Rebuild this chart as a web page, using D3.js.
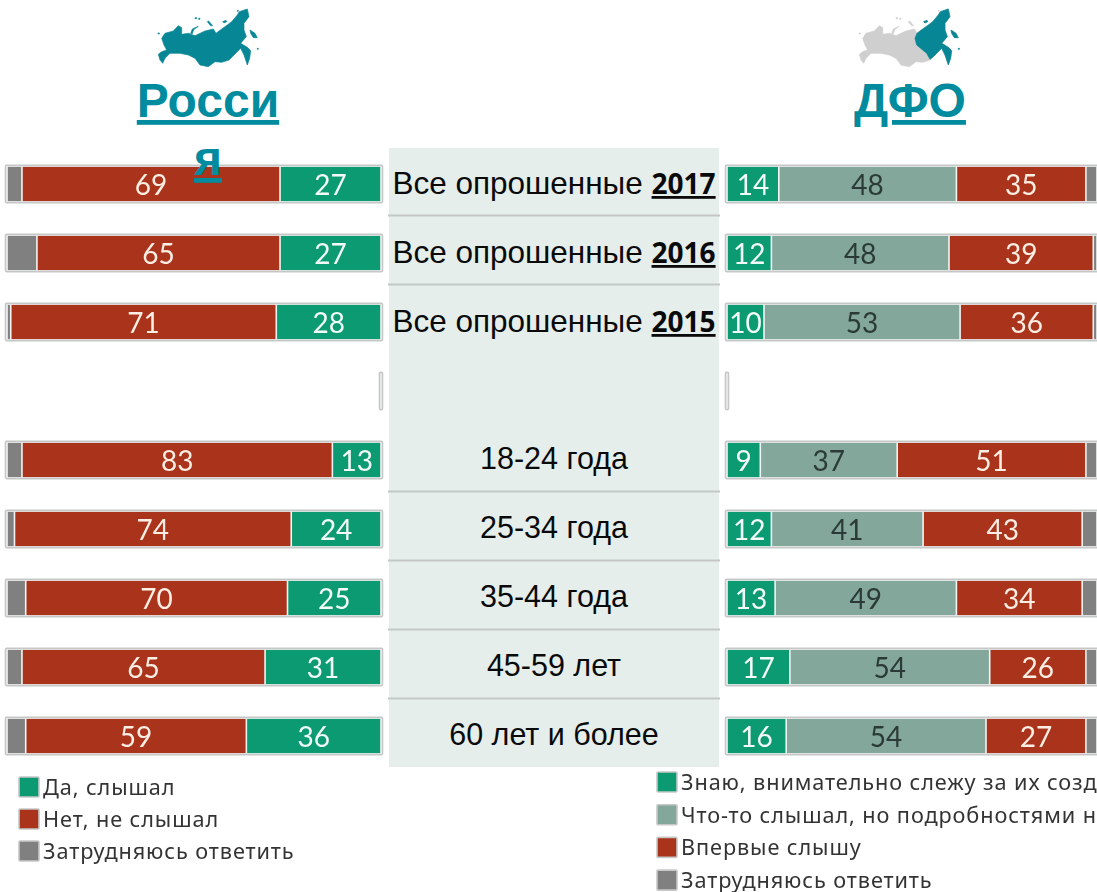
<!DOCTYPE html>
<html>
<head>
<meta charset="utf-8">
<script src="https://cdn.jsdelivr.net/npm/d3@7"></script>
<style>
    html, body { margin: 0; padding: 0; background: #fff; overflow: hidden; }
    svg { display: block; }
    .soft { filter: blur(0.45px); }
</style>
</head>
<body>
<div id="chart"></div>
<script>
// row labels, the empty string is the gap between years and age groups
var rowLabels = ["Все опрошенные", "Все опрошенные", "Все опрошенные", "", "18-24 года", "25-34 года", "35-44 года", "45-59 лет", "60 лет и более"];
var rowYears = ["2017", "2016", "2015", "", "", "", "", "", ""];

// Россия
var rusYes = [27, 27, 28, 0, 13, 24, 25, 31, 36];
var rusNo = [69, 65, 71, 0, 83, 74, 70, 65, 59];
var rusUnsure = [4, 8, 1, 0, 4, 2, 5, 4, 5];

// ДФО
var dfoKnow = [14, 12, 10, 0, 9, 12, 13, 17, 16];
var dfoHeard = [48, 48, 53, 0, 37, 41, 49, 54, 54];
var dfoFirst = [35, 39, 36, 0, 51, 43, 34, 26, 27];
var dfoUnsure = [3, 1, 1, 0, 3, 4, 4, 3, 3];

var rusLegend = ["Да, слышал", "Нет, не слышал", "Затрудняюсь ответить"];
var dfoLegend = ["Знаю, внимательно слежу за их созданием", "Что-то слышал, но подробностями не интересовался", "Впервые слышу", "Затрудняюсь ответить"];

function init() {
    var w = 1097;
    var h = 892;
    var green = "#0c9a72", sage = "#83a89b", red = "#a9331b", grey = "#808080", teal = "#008c9e";

    var svg = d3.select("#chart").append("svg")
        .attr("width", w)
        .attr("height", h);

    var yScale = d3.scaleBand()
        .domain(d3.range(rowLabels.length))
        .range([149.5, 770.5])
        .paddingInner(0.49)
        .paddingOuter(0.245);
    var rowY = function(i) { return yScale(i) + yScale.bandwidth() / 2; };

    // middle panel
    svg.append("rect")
        .attr("x", 389).attr("y", 148)
        .attr("width", 330).attr("height", 619)
        .attr("fill", "#e5eeeb");

    svg.selectAll("line.divider")
        .data([0, 1, 4, 5, 6, 7])
        .enter().append("line")
        .attr("class", "divider")
        .attr("x1", 388).attr("x2", 720)
        .attr("y1", function(d) { return rowY(d) + 31.5; })
        .attr("y2", function(d) { return rowY(d) + 31.5; })
        .attr("stroke", "#c3c7c5")
        .attr("stroke-width", 2);

    var labels = svg.selectAll("text.row")
        .data(rowLabels)
        .enter().append("text")
        .attr("class", "row")
        .attr("x", 554)
        .attr("y", function(d, i) { return rowY(i) + (rowYears[i] ? 10 : 9); })
        .attr("text-anchor", "middle")
        .style("font-family", "'Liberation Sans', sans-serif")
        .style("font-size", function(d, i) { return rowYears[i] ? "31.5px" : "30.5px"; })
        .attr("fill", "#0a0a0a");
    labels.append("tspan").text(function(d) { return d; });
    labels.append("tspan")
        .text(function(d, i) { return rowYears[i] ? " " : ""; });
    labels.append("tspan")
        .text(function(d, i) { return rowYears[i]; })
        .style("font-family", "'Open Sans', sans-serif")
        .style("font-weight", "700")
        .style("font-size", "28px")
        .style("text-decoration", "underline");

    // one stacked bar block
    function stackedBars(cls, series, xScale, colors, textColors) {
        var keys = series.map(function(s, i) { return i; });
        var table = rowLabels.map(function(d, r) {
            var row = {};
            series.forEach(function(s, i) { row[i] = s[r]; });
            return row;
        });
        var stacked = d3.stack().keys(keys)(table);
        var g = svg.append("g").attr("class", cls);

        // frame around each bar
        g.selectAll("rect.frame")
            .data(table)
            .enter().append("rect")
            .attr("class", "frame")
            .attr("x", function(d) {
                return Math.min(xScale(0), xScale(d3.sum(keys, function(k) { return d[k]; }))) - 1.5;
            })
            .attr("y", function(d, i) { return yScale(i) - 1; })
            .attr("width", function(d) {
                return Math.abs(xScale(d3.sum(keys, function(k) { return d[k]; })) - xScale(0)) + 3;
            })
            .attr("height", yScale.bandwidth() + 2)
            .attr("rx", 1)
            .attr("fill", "#f3f4f4")
            .attr("stroke", "#c6c8c8")
            .attr("stroke-width", 1.6);

        var layers = g.selectAll("g.layer")
            .data(stacked)
            .enter().append("g")
            .attr("class", "layer");

        layers.selectAll("rect")
            .data(function(d) { return d; })
            .enter().filter(function(d) { return d[1] > d[0]; })
            .append("rect")
            .attr("x", function(d) { return Math.min(xScale(d[0]), xScale(d[1])) + 0.8; })
            .attr("y", function(d) { return yScale(table.indexOf(d.data)) + 0.5; })
            .attr("width", function(d) { return Math.abs(xScale(d[1]) - xScale(d[0])) - 1.6; })
            .attr("height", yScale.bandwidth() - 1)
            .attr("fill", function() { return colors[d3.select(this.parentNode).datum().key]; });

        layers.filter(function(d) { return textColors[d.key]; })
            .selectAll("text")
            .data(function(d) { return d; })
            .enter().filter(function(d) { return d[1] > d[0]; })
            .append("text")
            .attr("class", "soft")
            .attr("x", function(d) { return (xScale(d[0]) + xScale(d[1])) / 2; })
            .attr("y", function(d) { return rowY(table.indexOf(d.data)) + 11; })
            .attr("text-anchor", "middle")
            .style("font-family", "Lato, 'Open Sans', sans-serif")
            .style("font-size", "28px")
            .attr("fill", function() { return textColors[d3.select(this.parentNode).datum().key]; })
            .text(function(d) { return d[1] - d[0]; });
    }

    var xRus = d3.scaleLinear().domain([0, 100]).range([381, 7]);
    var xDfo = d3.scaleLinear().domain([0, 100]).range([727, 1097]);

    stackedBars("rus", [rusYes, rusNo, rusUnsure], xRus,
        [green, red, grey], ["#f2fbf7", "#fdeee4", null]);
    stackedBars("dfo", [dfoKnow, dfoHeard, dfoFirst, dfoUnsure], xDfo,
        [green, sage, red, grey], ["#f2fbf7", "#2b3a36", "#fdeee4", null]);

    // small maps, hand traced outline
    var west = "M25,148L35,140L50,135L42,120L35,100L45,85L70,78L85,62L95,68L95,88L115,85L135,92L165,78L190,72L198,85";
    var farEastEdge = "L207,78L232,60L245,50L262,30L268,20L292,12L297,35L282,55L282,75L289,95L272,115L292,127L302,137L299,160L292,180L282,150L272,130L247,155";
    var south = "L237,165L215,172L195,170L175,185L150,180L135,160L115,150L90,145L60,145L45,160L38,175L30,165Z";
    var farEastClose = "L237,163L227,145L197,120L192,100Z";
    var islands = "M122,85L127,72L145,64L131,74L127,86ZM172,50L176,48L188,62L182,62ZM218,50L228,46L230,50L222,54ZM300,75L315,85L322,98L310,98L302,85ZM135,38h5v3h-5ZM146,40h4v3h-4ZM24,84h4v3h-4ZM262,16h3v3h-3ZM322,130h3v3h-3Z";
    var eastIslands = "M218,50L228,46L230,50L222,54ZM300,75L315,85L322,98L310,98L302,85ZM322,130h3v3h-3Z";

    var mapLeft = svg.append("g").attr("class", "soft")
        .attr("transform", "translate(150,5) scale(0.3333)");
    mapLeft.append("path")
        .attr("d", west + farEastEdge + south + islands)
        .attr("fill", "#078696").attr("stroke", "#078696").attr("stroke-width", 2);

    var mapRight = svg.append("g").attr("class", "soft")
        .attr("transform", "translate(851,5) scale(0.3333)");
    mapRight.append("path")
        .attr("d", west + farEastEdge + south + islands)
        .attr("fill", "#cfcfcf").attr("stroke", "#cfcfcf").attr("stroke-width", 2);
    mapRight.append("path")
        .attr("d", "M198,85" + farEastEdge + farEastClose + eastIslands)
        .attr("fill", "#078696").attr("stroke", "#078696").attr("stroke-width", 2);

    // titles
    var title = svg.selectAll("text.title")
        .data([{ x: 208, lines: ["Росси", "я"] }, { x: 910, lines: ["ДФО"] }])
        .enter().append("text")
        .attr("class", "title")
        .attr("text-anchor", "middle")
        .style("font-family", "'Liberation Sans', sans-serif")
        .style("font-weight", "700")
        .style("font-size", "48px")
        .style("text-decoration", "underline")
        .attr("fill", teal);
    title.selectAll("tspan")
        .data(function(d) { return d.lines.map(function(l, i) { return { x: d.x, y: 117 + i * 58, t: l }; }); })
        .enter().append("tspan")
        .attr("x", function(d) { return d.x; })
        .attr("y", function(d) { return d.y; })
        .text(function(d) { return d.t; });

    // legends
    function legend(names, colors, x, y0, step, tx) {
        var item = svg.selectAll("g.legend" + x)
            .data(names)
            .enter().append("g")
            .attr("class", "legend" + x + " soft")
            .attr("transform", function(d, i) { return "translate(" + x + "," + (y0 + i * step) + ")"; });
        item.append("rect")
            .attr("x", 0).attr("y", -10)
            .attr("width", 20).attr("height", 20)
            .attr("rx", 1)
            .attr("fill", function(d, i) { return colors[i]; })
            .attr("stroke", "#c6c8c8")
            .attr("stroke-width", 1.6);
        item.append("text")
            .attr("x", tx)
            .attr("y", 8)
            .style("font-family", "'Noto Sans', 'Open Sans', sans-serif")
            .style("font-size", "21.7px")
            .style("letter-spacing", "0.9px")
            .attr("fill", "#333")
            .text(function(d) { return d; });
    }
    legend(rusLegend, [green, red, grey], 19, 787, 32, 24);
    legend(dfoLegend, [green, sage, red, grey], 657, 782, 32.7, 24);
}
window.onload = init;
</script>
</body>
</html>
